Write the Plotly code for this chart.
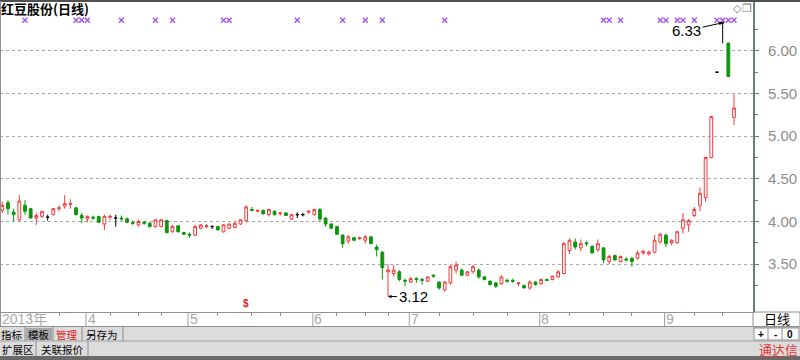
import plotly.graph_objects as go

# ---------------- data ----------------
opens = [4.13, 4.22, 4.11, 4.02, 4.19, 4.15, 4.04, 4.06, 4.05, 4.08,
         4.15, 4.18, 4.20, 4.16, 4.07, 4.03, 4.05, 4.06, 3.97, 4.05,
         4.04, 4.04, 4.03, 3.99, 3.96, 3.99, 3.98, 3.94, 3.94, 4.01,
         3.88, 3.95, 3.87, 3.85, 3.84, 3.92, 3.94, 3.94, 3.94, 3.88,
         3.92, 3.93, 3.97, 4.01, 4.14, 4.12, 4.13, 4.08, 4.12, 4.09,
         4.10, 4.03, 4.08, 4.08, 4.11, 4.08, 4.14, 4.04, 3.97, 3.94,
         3.84, 3.77, 3.81, 3.80, 3.78, 3.82, 3.70, 3.64, 3.41, 3.39,
         3.41, 3.31, 3.29, 3.33, 3.32, 3.30, 3.37, 3.29, 3.20, 3.28,
         3.43, 3.43, 3.37, 3.41, 3.43, 3.35, 3.30, 3.28, 3.27, 3.31,
         3.31, 3.27, 3.25, 3.22, 3.29, 3.27, 3.32, 3.32, 3.35, 3.39,
         3.66, 3.76, 3.69, 3.75, 3.71, 3.67, 3.69, 3.53, 3.60, 3.53,
         3.56, 3.57, 3.57, 3.63, 3.62, 3.64, 3.76, 3.84, 3.75, 3.75,
         3.92, 3.96, 4.07, 4.19, 4.28, 4.75, 5.75, 6.33, 6.09, 5.22]
highs = [4.23, 4.25, 4.15, 4.31, 4.25, 4.16, 4.10, 4.12, 4.08, 4.16,
         4.19, 4.31, 4.26, 4.17, 4.10, 4.07, 4.07, 4.06, 4.08, 4.08,
         4.08, 4.07, 4.05, 4.01, 4.02, 4.01, 3.99, 4.02, 4.03, 4.02,
         3.96, 3.96, 3.88, 3.87, 3.96, 3.97, 3.97, 3.96, 3.95, 3.97,
         3.98, 3.99, 4.02, 4.19, 4.17, 4.14, 4.14, 4.15, 4.13, 4.11,
         4.11, 4.09, 4.11, 4.10, 4.13, 4.15, 4.16, 4.05, 3.98, 3.95,
         3.85, 3.84, 3.82, 3.82, 3.84, 3.83, 3.73, 3.65, 3.50, 3.49,
         3.43, 3.33, 3.35, 3.35, 3.34, 3.36, 3.38, 3.30, 3.30, 3.49,
         3.53, 3.45, 3.42, 3.49, 3.45, 3.36, 3.31, 3.29, 3.37, 3.33,
         3.33, 3.28, 3.26, 3.31, 3.30, 3.33, 3.33, 3.36, 3.43, 3.76,
         3.80, 3.80, 3.79, 3.77, 3.72, 3.79, 3.70, 3.61, 3.61, 3.60,
         3.58, 3.58, 3.66, 3.67, 3.66, 3.84, 3.87, 3.86, 3.79, 3.89,
         4.10, 4.03, 4.17, 4.40, 4.76, 5.23, 5.75, 6.33, 6.10, 5.49]
lows = [4.10, 4.08, 4.00, 4.00, 4.08, 4.04, 3.96, 4.04, 4.01, 4.07,
        4.12, 4.15, 4.15, 4.07, 3.98, 3.99, 4.02, 3.99, 3.90, 4.02,
        3.94, 4.01, 3.98, 3.96, 3.94, 3.96, 3.93, 3.93, 3.93, 3.86,
        3.87, 3.87, 3.85, 3.81, 3.83, 3.91, 3.92, 3.91, 3.90, 3.87,
        3.91, 3.92, 3.96, 3.99, 4.12, 4.11, 4.08, 4.06, 4.07, 4.07,
        4.07, 4.02, 4.04, 4.06, 4.09, 4.07, 4.00, 3.94, 3.92, 3.85,
        3.69, 3.74, 3.77, 3.78, 3.74, 3.74, 3.59, 3.32, 3.12, 3.36,
        3.30, 3.24, 3.28, 3.28, 3.26, 3.29, 3.34, 3.20, 3.18, 3.26,
        3.39, 3.37, 3.36, 3.39, 3.33, 3.31, 3.25, 3.22, 3.26, 3.28,
        3.28, 3.24, 3.22, 3.20, 3.25, 3.26, 3.30, 3.31, 3.34, 3.38,
        3.62, 3.67, 3.65, 3.71, 3.63, 3.64, 3.51, 3.50, 3.54, 3.52,
        3.53, 3.47, 3.55, 3.61, 3.60, 3.63, 3.74, 3.70, 3.72, 3.74,
        3.86, 3.88, 4.05, 4.12, 4.23, 4.74, 5.75, 6.09, 5.70, 5.13]
closes = [4.19, 4.15, 4.08, 4.24, 4.12, 4.04, 4.07, 4.12, 4.05, 4.15,
          4.16, 4.21, 4.21, 4.08, 4.04, 4.06, 4.04, 3.99, 4.06, 4.06,
          4.04, 4.03, 3.99, 3.98, 4.00, 3.98, 3.94, 4.02, 4.02, 3.87,
          3.94, 3.88, 3.85, 3.84, 3.94, 3.96, 3.95, 3.94, 3.90, 3.96,
          3.97, 3.98, 4.02, 4.17, 4.13, 4.13, 4.09, 4.14, 4.08, 4.10,
          4.07, 4.08, 4.08, 4.08, 4.12, 4.14, 4.03, 3.97, 3.92, 3.85,
          3.74, 3.82, 3.78, 3.81, 3.82, 3.74, 3.67, 3.46, 3.43, 3.43,
          3.32, 3.30, 3.33, 3.32, 3.31, 3.35, 3.36, 3.22, 3.29, 3.47,
          3.49, 3.37, 3.41, 3.47, 3.35, 3.32, 3.26, 3.24, 3.35, 3.30,
          3.30, 3.28, 3.22, 3.29, 3.26, 3.32, 3.31, 3.36, 3.41, 3.74,
          3.78, 3.70, 3.74, 3.74, 3.63, 3.74, 3.55, 3.59, 3.55, 3.59,
          3.55, 3.53, 3.63, 3.65, 3.64, 3.78, 3.85, 3.74, 3.78, 3.88,
          4.02, 4.01, 4.14, 4.33, 4.75, 5.23, 5.75, 6.33, 5.70, 5.33]

month_labels = ["2013年", "4", "5", "6", "7", "8", "9"]
month_start = [0, 15, 33, 55, 72, 95, 117]
week_ticks = [5, 10, 19, 24, 28, 38, 44, 49, 59, 64, 68, 77, 83, 89, 100, 106, 111, 122, 127]
event_idx = [4, 13, 14, 15, 21, 27, 30, 39, 40, 52, 60, 64, 67, 78,
             106, 107, 109, 116, 117, 119, 120, 122, 126, 127, 128, 129]
EVENT_LEVEL = 6.36
y_ticks = [3.5, 4.0, 4.5, 5.0, 5.5, 6.0]
y_minor = [3.25, 3.75, 4.25, 4.75, 5.25, 5.75, 6.25]
HIGH_IDX, HIGH_VAL = 127, 6.33
LOW_IDX, LOW_VAL = 68, 3.12

RED = "#f23a3a"
GREEN = "#0d960d"
idx = list(range(len(opens)))
up = [i for i in idx if closes[i] > opens[i]]
dn = [i for i in idx if closes[i] < opens[i]]
fl = [i for i in idx if closes[i] == opens[i]]


def candles(sel, col_line, col_fill):
    return go.Candlestick(
        x=sel,
        open=[opens[i] for i in sel], high=[highs[i] for i in sel],
        low=[lows[i] for i in sel], close=[closes[i] for i in sel],
        increasing=dict(line=dict(color=col_line, width=1), fillcolor=col_fill),
        decreasing=dict(line=dict(color=col_line, width=1), fillcolor=col_fill),
        whiskerwidth=0, showlegend=False, hoverinfo="skip")


fig = go.Figure()
fig.add_trace(candles(up, RED, "white"))
fig.add_trace(candles(dn, GREEN, GREEN))
fig.add_trace(candles(fl, "black", "black"))
fig.add_trace(go.Scatter(x=event_idx, y=[EVENT_LEVEL] * len(event_idx), mode="markers",
                         marker=dict(symbol="x-thin", size=5, color="#a24ef0",
                                     line=dict(width=1.3, color="#a24ef0")),
                         showlegend=False, hoverinfo="skip"))

# pixel helpers for the frame decorations (plot area: x 0..753, y 2..312)
PW, PT, PB = 753.0, 2.0, 312.0
def px(x):
    return x / PW
def py(y):
    return (PB - y) / (PB - PT)

shapes = []
annotations = []


def label(x, y, text, size=12, color="black", family="Noto Sans CJK SC", xanchor="center", xref="paper"):
    annotations.append(dict(x=x, y=y, xref=xref, yref="paper", text=text, showarrow=False,
                            xanchor=xanchor, yanchor="middle", borderpad=0,
                            font=dict(family=family, size=size, color=color)))


def hline(y, x0=0, x1=800, color="#909090", width=1):
    shapes.append(dict(type="line", xref="paper", yref="paper", x0=px(x0), x1=px(x1), y0=py(y), y1=py(y),
                       line=dict(color=color, width=width)))


def vline(x, y0, y1, color="#8a8a8a", width=1):
    shapes.append(dict(type="line", xref="paper", yref="paper", x0=px(x), x1=px(x), y0=py(y0), y1=py(y1),
                       line=dict(color=color, width=width)))


def rect(x0, y0, x1, y1, fill, line_color=None):
    shapes.append(dict(type="rect", xref="paper", yref="paper", x0=px(x0), x1=px(x1), y0=py(y1), y1=py(y0),
                       fillcolor=fill, layer="below",
                       line=dict(width=1 if line_color else 0, color=line_color or fill)))


# toolbar rows backgrounds
rect(0, 327, 800, 341, "#dcdcdc")
rect(0, 341, 800, 356, "#dcdcdc")
rect(0, 356, 800, 360, "#6a6a6a")
rect(26, 328, 52, 340, "#a9a9a9")

# frame lines
hline(1, color="#505050", width=2)
vline(0.5, 1, 326, color="#909090")
hline(326.5)
hline(341, color="#a0a0a0")

# month separators and labels on the date row
for lab, m in zip(month_labels, month_start):
    if m > 0:
        shapes.append(dict(type="line", xref="x", yref="paper", x0=m - 0.25, x1=m - 0.25,
                           y0=py(312), y1=py(326), line=dict(color="#a0a0a0", width=1)))
    label(m - 0.15, py(318.5), lab, size=14, color="#a8a8a8",
          family="Liberation Sans, Noto Sans CJK SC", xanchor="left", xref="x")

buttons1 = [("指标", 12, "black"), ("模板", 39, "black"), ("管理", 67, "#e02020"), ("另存为", 102, "black")]
for t, cx, c in buttons1:
    label(px(cx), py(334), t, size=10.5, color=c)
for sx in [25, 53, 82, 123]:
    vline(sx, 327, 341)
buttons2 = [("扩展区", 18), ("关联报价", 62)]
for t, cx in buttons2:
    label(px(cx), py(349.5), t, size=10.5)
for sx in [36, 88]:
    vline(sx, 341, 356)

# right-hand column
rect(753, 312, 800, 327, "white", "#909090")
label(px(777), py(319), "日线", size=13)
rect(754, 328, 799, 340, "white", "#909090")
for t, cx in [("+", 761), ("-", 775), ("0", 790)]:
    label(px(cx), py(334), "<b>%s</b>" % t, size=10, family="Liberation Sans")
for sx in [768, 782]:
    vline(sx, 328, 340)
label(px(778), py(349.5), "通达信", size=13, color="#e83030")

# title and icons
label(px(0), py(8.5), "<b>红豆股份(日线)</b>", size=13, xanchor="left")
label(px(737), py(8), "◇", size=11, color="#777777", family="DejaVu Sans")
label(px(747), py(8), "❐", size=11, color="#777777", family="DejaVu Sans")
label(43, py(303), "<b>$</b>", size=10, color="#e02020", family="Liberation Sans", xref="x")

# high / low labels
annotations.append(dict(x=HIGH_IDX, y=HIGH_VAL, xref="x", yref="y", text="%.2f" % HIGH_VAL, showarrow=True,
                        arrowhead=2, arrowsize=0.7, arrowwidth=1, arrowcolor="black", ax=-36, ay=8,
                        font=dict(family="Liberation Sans", size=15, color="black")))
annotations.append(dict(x=LOW_IDX, y=LOW_VAL, xref="x", yref="y", text="%.2f" % LOW_VAL, showarrow=True,
                        arrowhead=2, arrowsize=0.7, arrowwidth=1, arrowcolor="black", ax=25, ay=0,
                        font=dict(family="Liberation Sans", size=15, color="black")))

fig.update_layout(
    width=800, height=360,
    margin=dict(l=0, r=47, t=2, b=48),
    paper_bgcolor="white", plot_bgcolor="white",
    showlegend=False,
    shapes=shapes, annotations=annotations,
    xaxis=dict(range=[-0.405, 132.35], showgrid=False, zeroline=False,
               tickvals=week_ticks, ticks="outside", ticklen=3, tickcolor="#909090",
               showticklabels=False, showline=True, linecolor="#909090", linewidth=1,
               rangeslider=dict(visible=False), fixedrange=True),
    yaxis=dict(side="right", range=[2.939, 6.573], tickvals=y_ticks,
               ticktext=["%.2f" % v for v in y_ticks], ticks="outside", ticklen=4,
               tickcolor="#6e7b7b", showgrid=True, gridcolor="#a8a8a8", griddash="dot", gridwidth=1,
               zeroline=False, showline=True, linecolor="#6e7b7b", linewidth=2,
               ticklabelstandoff=6, automargin=False,
               tickfont=dict(family="Liberation Sans", size=15, color="#8c8c8c"),
               minor=dict(tickvals=y_minor, ticks="outside", ticklen=3, tickcolor="#6e7b7b"),
               fixedrange=True),
    boxgap=0.3,
)

fig.write_html("out.html", config={"displayModeBar": False},
               post_script="document.body.style.margin='0px';document.body.style.overflow='hidden';")
